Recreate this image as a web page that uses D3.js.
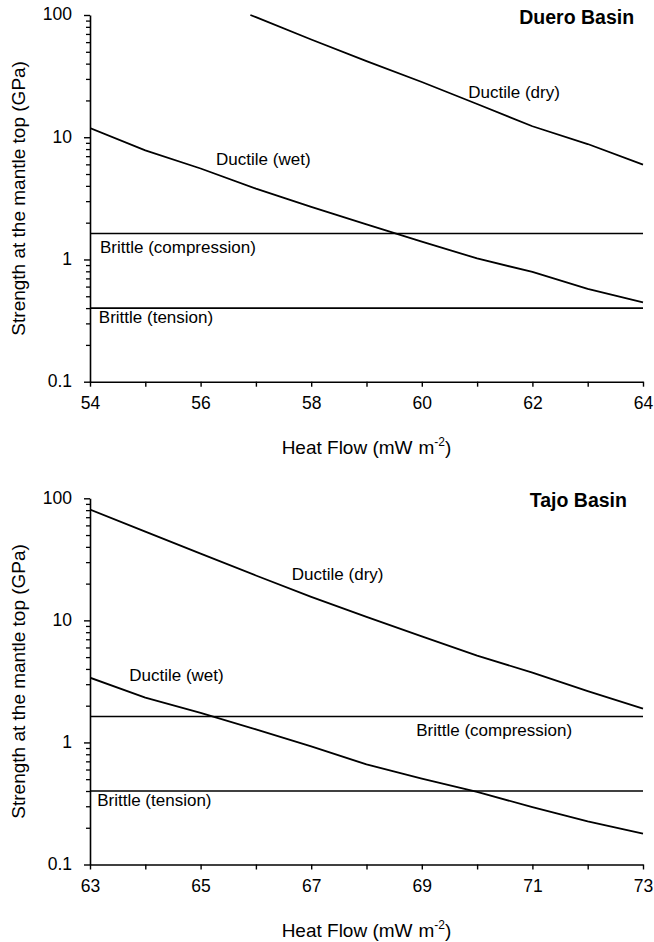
<!DOCTYPE html>
<html>
<head>
<meta charset="utf-8">
<script src="https://cdn.jsdelivr.net/npm/d3@7"></script>
<style>
  html, body { margin: 0; padding: 0; background: #fff; }
  svg { display: block; font-family: "Liberation Sans", Arial, sans-serif; }
</style>
</head>
<body>
<svg id="chart" width="654" height="942"></svg>
<script>
// ---------- data ----------
const yTickValues = [0.1, 1, 10, 100];
const yTickLabels = ["0.1", "1", "10", "100"];

// Duero Basin
const dueroHF      = [54, 55, 56, 57, 58, 59, 60, 61, 62, 63, 64];
const dueroXLabels = ["54", "56", "58", "60", "62", "64"];
const dueroDryHF   = [56.9, 57, 58, 59, 60, 61, 62, 63, 64];
const dueroDry     = [100, 96, 63, 42, 28.3, 18.7, 12.3, 8.8, 5.97];
const dueroWet     = [11.9, 7.8, 5.55, 3.8, 2.69, 1.94, 1.40, 1.02, 0.79, 0.575, 0.445];
const dueroCompression = 1.63;
const dueroTension     = 0.40;

// Tajo Basin
const tajoHF      = [63, 64, 65, 66, 67, 68, 69, 70, 71, 72, 73];
const tajoXLabels = ["63", "65", "67", "69", "71", "73"];
const tajoDry     = [81, 53.3, 35.2, 23.3, 15.6, 10.7, 7.4, 5.15, 3.73, 2.63, 1.89];
const tajoWet     = [3.39, 2.33, 1.75, 1.28, 0.93, 0.66, 0.505, 0.393, 0.295, 0.226, 0.179];
const tajoCompression = 1.63;
const tajoTension     = 0.40;

// annotation text and anchor points (in data units)
const dueroLabels = [
  {text: "Ductile (dry)",         hf: 60.84, v: 21.1},
  {text: "Ductile (wet)",         hf: 56.28, v: 5.93},
  {text: "Brittle (compression)", hf: 54.18, v: 1.124},
  {text: "Brittle (tension)",     hf: 54.16, v: 0.30}
];
const tajoLabels = [
  {text: "Ductile (dry)",         hf: 66.65, v: 21.4},
  {text: "Ductile (wet)",         hf: 63.71, v: 3.20},
  {text: "Brittle (compression)", hf: 68.90, v: 1.129},
  {text: "Brittle (tension)",     hf: 63.13, v: 0.301}
];
const dueroTitle = {text: "Duero Basin", hf: 63.84, v: 83.9};
const tajoTitle  = {text: "Tajo Basin",  hf: 72.71, v: 85.3};

const yTitle = "Strength at the mantle top (GPa)";
const xTitleMain = "Heat Flow (mW";
const xTitleUnit = "m";
const xTitleSup = "-2";

// ---------- drawing ----------
const svg = d3.select("#chart");

const minorYTicks = [];
for (let d = 0.1; d < 100; d *= 10) {
  for (let k = 2; k <= 9; k++) minorYTicks.push(+(d * k).toPrecision(3));
}

function drawPanel(cfg) {
  const x = d3.scaleLinear().domain(cfg.xDomain).range([cfg.left, cfg.right]);
  const y = d3.scaleLog().domain([0.1, 100]).range([cfg.bottom, cfg.top]);
  const g = svg.append("g");

  const clipId = "clip" + cfg.id;
  svg.append("clipPath").attr("id", clipId)
    .append("rect")
    .attr("x", cfg.left).attr("y", cfg.top - 1)
    .attr("width", cfg.right - cfg.left + 1)
    .attr("height", cfg.bottom - cfg.top + 1);

  // brittle horizontal lines
  [cfg.compression, cfg.tension].forEach(v => {
    g.append("line")
      .attr("x1", x(cfg.xDomain[0])).attr("x2", x(cfg.xDomain[1]))
      .attr("y1", y(v)).attr("y2", y(v))
      .attr("stroke", "#000").attr("stroke-width", 1.6);
  });

  const line = d3.line().x(d => x(d[0])).y(d => y(d[1]));
  const series = [
    d3.zip(cfg.dryHF, cfg.dry),
    d3.zip(cfg.hf, cfg.wet)
  ];
  series.forEach(s => {
    g.append("path")
      .datum(s)
      .attr("clip-path", `url(#${clipId})`)
      .attr("fill", "none")
      .attr("stroke", "#000")
      .attr("stroke-width", 1.8)
      .attr("stroke-linejoin", "round")
      .attr("d", line);
  });

  // y axis: minor ticks
  g.append("g")
    .attr("transform", `translate(${cfg.left},0)`)
    .call(d3.axisLeft(y).tickValues(minorYTicks).tickSize(4).tickFormat(""))
    .call(a => a.select(".domain").remove())
    .call(a => a.selectAll("line").attr("stroke-width", 1.3));

  // y axis: major ticks
  const yAxis = g.append("g")
    .attr("transform", `translate(${cfg.left},0)`)
    .call(d3.axisLeft(y).tickValues(yTickValues).tickSize(6).tickSizeOuter(0)
      .tickPadding(12)
      .tickFormat((d, i) => yTickLabels[i]));
  yAxis.select(".domain").attr("stroke-width", 1.6);
  yAxis.selectAll("line").attr("stroke-width", 1.4);
  yAxis.selectAll("text")
    .attr("font-size", 17.5)
    .attr("font-family", "Liberation Sans, Arial, sans-serif")
    .attr("fill", "#000")
    .attr("dy", "0.28em");

  // x axis
  const xAxis = g.append("g")
    .attr("transform", `translate(0,${cfg.bottom})`)
    .call(d3.axisBottom(x).tickValues(cfg.hf).tickSize(5).tickSizeOuter(0)
      .tickPadding(10)
      .tickFormat((d, i) => (i % 2 === 0 ? cfg.xLabels[i / 2] : "")));
  xAxis.select(".domain").attr("stroke-width", 1.6);
  xAxis.selectAll("line").attr("stroke-width", 1.4);
  xAxis.selectAll("text")
    .attr("font-size", 17.5)
    .attr("font-family", "Liberation Sans, Arial, sans-serif")
    .attr("fill", "#000");
  svg.selectAll(".domain").attr("stroke", "#000");

  // annotations
  cfg.labels.forEach(l => {
    g.append("text")
      .attr("x", x(l.hf)).attr("y", y(l.v))
      .attr("font-size", 17)
      .attr("fill", "#000")
      .text(l.text);
  });
  g.append("text")
    .attr("x", x(cfg.title.hf)).attr("y", y(cfg.title.v))
    .attr("text-anchor", "end")
    .attr("font-size", 19.5)
    .attr("font-weight", "bold")
    .attr("fill", "#000")
    .text(cfg.title.text);

  // y title
  const cy = (cfg.top + cfg.bottom) / 2;
  g.append("text")
    .attr("transform", `translate(25,${cy}) rotate(-90)`)
    .attr("text-anchor", "middle")
    .attr("font-size", 19)
    .attr("fill", "#000")
    .text(yTitle);

  // x title
  const xt = g.append("text")
    .attr("x", (cfg.left + cfg.right) / 2)
    .attr("y", cfg.bottom + 72.5)
    .attr("text-anchor", "middle")
    .attr("font-size", 19)
    .attr("fill", "#000");
  xt.append("tspan").text(xTitleMain);
  xt.append("tspan").attr("dx", 6).text(xTitleUnit);
  xt.append("tspan").attr("font-size", 12).attr("dy", -8).text(xTitleSup);
  xt.append("tspan").attr("dy", 8).text(")");
}

drawPanel({
  id: "duero", left: 90, right: 643, top: 15, bottom: 381.7,
  xDomain: [54, 64], hf: dueroHF, xLabels: dueroXLabels,
  dryHF: dueroDryHF, dry: dueroDry, wet: dueroWet,
  compression: dueroCompression, tension: dueroTension,
  labels: dueroLabels, title: dueroTitle
});

drawPanel({
  id: "tajo", left: 90, right: 643, top: 498.3, bottom: 864.5,
  xDomain: [63, 73], hf: tajoHF, xLabels: tajoXLabels,
  dryHF: tajoHF, dry: tajoDry, wet: tajoWet,
  compression: tajoCompression, tension: tajoTension,
  labels: tajoLabels, title: tajoTitle
});
</script>
</body>
</html>
